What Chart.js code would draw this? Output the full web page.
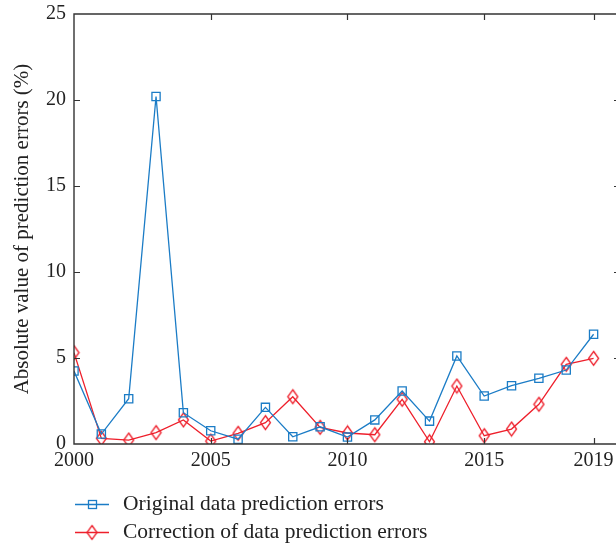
<!DOCTYPE html>
<html>
<head>
<meta charset="utf-8">
<script src="https://cdn.jsdelivr.net/npm/chart.js@4/dist/chart.umd.min.js"></script>
<style>
  html, body { margin: 0; padding: 0; background: #fff; }
  #wrap { width: 616px; height: 545px; position: relative; }
</style>
</head>
<body>
<div id="wrap"><canvas id="errorsChart"></canvas></div>
<script>
// Data
const years = [2000, 2001, 2002, 2003, 2004, 2005, 2006, 2007, 2008, 2009,
               2010, 2011, 2012, 2013, 2014, 2015, 2016, 2017, 2018, 2019];
const originalErrors = [4.24, 0.58, 2.63, 20.2, 1.82, 0.77, 0.28, 2.13, 0.42, 1.0,
                        0.4, 1.4, 3.08, 1.33, 5.12, 2.79, 3.39, 3.82, 4.3, 6.38];
const correctedErrors = [5.31, 0.33, 0.23, 0.66, 1.4, 0.17, 0.62, 1.24, 2.75, 0.97,
                         0.64, 0.54, 2.6, 0.13, 3.37, 0.48, 0.87, 2.31, 4.63, 4.98];
const xTicks = [2000, 2005, 2010, 2015, 2019];
const yTicks = [0, 5, 10, 15, 20, 25];
const seriesNames = ['Original data prediction errors', 'Correction of data prediction errors'];

const BLUE = '#1b7cc6';
const RED = '#ee1f2b';
const AXIS = '#333333';
const FONT = "'Liberation Serif', 'DejaVu Serif', serif";

// hollow diamond marker, a bit taller than wide
function diamondMarker(color) {
  const c = document.createElement('canvas');
  c.width = 13; c.height = 17;
  const g = c.getContext('2d');
  g.strokeStyle = color;
  g.lineWidth = 1.3;
  g.beginPath();
  g.moveTo(6.5, 1.5);
  g.lineTo(11.5, 8.5);
  g.lineTo(6.5, 15.5);
  g.lineTo(1.5, 8.5);
  g.closePath();
  g.stroke();
  return c;
}
const redDiamond = diamondMarker(RED);

// the plot box runs off the right edge of the figure, so let the x axis reach it
const stretchPlugin = {
  id: 'stretch',
  afterLayout(chart) {
    const a = chart.chartArea, x = chart.scales.x;
    if (a.right < chart.width) {
      a.right = chart.width;
      a.width = a.right - a.left;
      x.right = chart.width;
      x.width = x.right - x.left;
      x.configure();
    }
  }
};

// box frame with inward ticks, like the original figure
const framePlugin = {
  id: 'frame',
  afterDatasetsDraw(chart) {
    const { ctx, chartArea: a, scales } = chart;
    ctx.save();
    ctx.strokeStyle = AXIS;
    ctx.lineWidth = 1.4;
    ctx.beginPath();
    ctx.moveTo(a.right, a.top); ctx.lineTo(a.left, a.top);
    ctx.lineTo(a.left, a.bottom); ctx.lineTo(a.right, a.bottom);
    ctx.stroke();
    ctx.lineWidth = 1.2;
    ctx.beginPath();
    xTicks.slice(1).forEach(v => {
      const x = Math.round(scales.x.getPixelForValue(v)) + 0.5;
      ctx.moveTo(x, a.bottom); ctx.lineTo(x, a.bottom - 6);
      ctx.moveTo(x, a.top); ctx.lineTo(x, a.top + 6);
    });
    yTicks.slice(1, -1).forEach(v => {
      const y = Math.round(scales.y.getPixelForValue(v)) + 0.5;
      ctx.moveTo(a.left, y); ctx.lineTo(a.left + 6, y);
      ctx.moveTo(a.right, y); ctx.lineTo(a.right - 2, y);
    });
    ctx.stroke();
    ctx.restore();
  },
  afterDraw(chart) {
    // legend below the plot: line + marker, then label
    const { ctx } = chart;
    const rows = [504, 532];
    ctx.save();
    chart.data.datasets.forEach((ds, i) => {
      const y = rows[i];
      ctx.strokeStyle = ds.borderColor;
      ctx.lineWidth = 1.3;
      ctx.beginPath();
      ctx.moveTo(75, y + 0.5); ctx.lineTo(109, y + 0.5);
      ctx.stroke();
      if (ds.pointStyle === 'rect') {
        ctx.strokeRect(88.5, y - 3.5, 8, 8);
      } else {
        ctx.drawImage(ds.pointStyle, 92 - 6.5, y - 8);
      }
      ctx.fillStyle = '#222';
      ctx.font = '21.5px ' + FONT;
      ctx.textAlign = 'left';
      ctx.textBaseline = 'middle';
      ctx.fillText(ds.label, 123, y);
    });
    ctx.restore();
  }
};

new Chart(document.getElementById('errorsChart'), {
  type: 'line',
  data: {
    datasets: [
      {
        label: seriesNames[0],
        data: years.map((x, i) => ({ x, y: originalErrors[i] })),
        borderColor: BLUE,
        borderWidth: 1.3,
        pointStyle: 'rect',
        pointRadius: 5.8,
        pointBorderWidth: 1.3,
        pointBorderColor: BLUE,
        pointBackgroundColor: 'rgba(0,0,0,0)',
        tension: 0
      },
      {
        label: seriesNames[1],
        data: years.map((x, i) => ({ x, y: correctedErrors[i] })),
        borderColor: RED,
        borderWidth: 1.3,
        pointStyle: redDiamond,
        pointRadius: 6,
        pointBorderColor: RED,
        pointBackgroundColor: 'rgba(0,0,0,0)',
        tension: 0
      }
    ]
  },
  options: {
    responsive: true,
    maintainAspectRatio: false,
    animation: false,
    layout: { padding: { top: 14, right: 0, left: 0, bottom: 0 } },
    plugins: {
      legend: { display: false },
      tooltip: { enabled: false }
    },
    scales: {
      x: {
        type: 'linear',
        min: 2000,
        max: 2019.82,
        afterBuildTicks: s => { s.ticks = xTicks.map(v => ({ value: v })); },
        afterFit: s => {
          s.height = 101;
          s.paddingLeft = 0;
          s.paddingRight = 0;
        },
        grid: { display: false, drawTicks: false },
        border: { display: false },
        ticks: {
          padding: 5,
          color: '#222',
          font: { family: FONT, size: 20 },
          maxRotation: 0,
          callback: v => String(v)
        }
      },
      y: {
        min: 0,
        max: 25,
        afterBuildTicks: s => { s.ticks = yTicks.map(v => ({ value: v })); },
        afterFit: s => {
          s.width = 74;
          s.paddingTop = 0;
          s.paddingBottom = 0;
        },
        grid: { display: false, drawTicks: false },
        border: { display: false },
        ticks: {
          padding: 8,
          color: '#222',
          font: { family: FONT, size: 20 }
        },
        title: {
          display: true,
          text: 'Absolute value of prediction errors (%)',
          color: '#222',
          font: { family: FONT, size: 21 },
          padding: { top: 10, bottom: 0 }
        }
      }
    }
  },
  plugins: [stretchPlugin, framePlugin]
});
</script>
</body>
</html>
